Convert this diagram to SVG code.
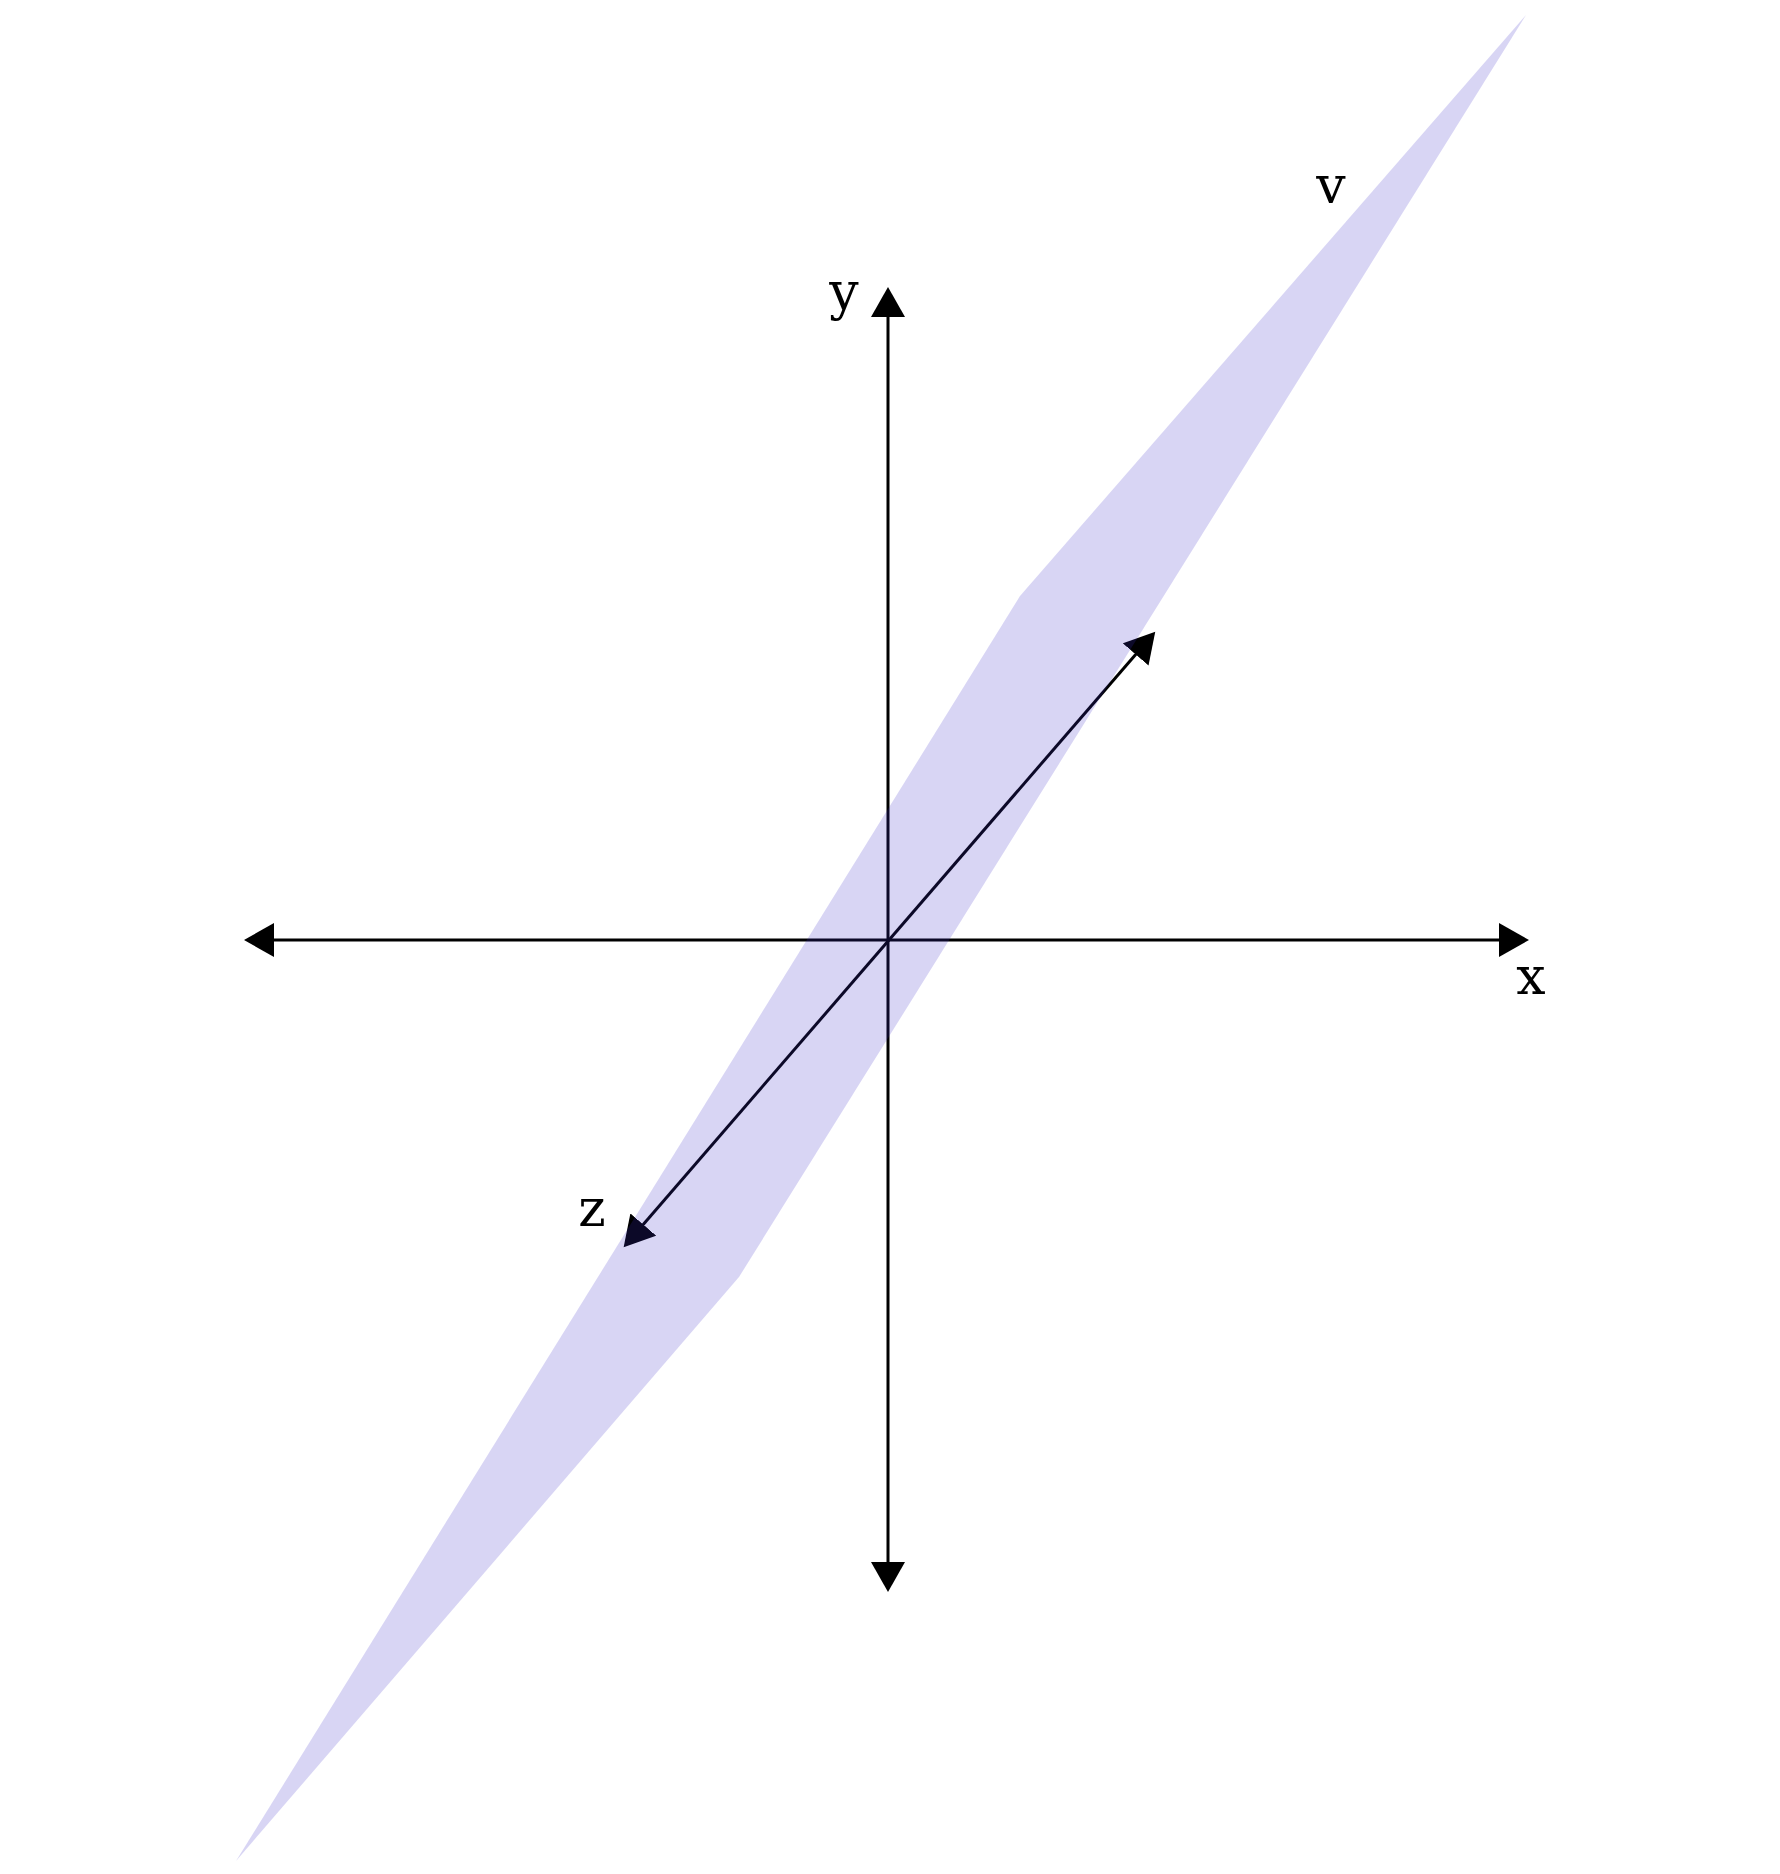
<svg xmlns="http://www.w3.org/2000/svg" width="1780" height="1874" viewBox="0 0 1780 1874">
  <style>
    .axis { stroke: #000; stroke-width: 3; fill: none; marker-start: url(#head); marker-end: url(#head); }
    .lbl { font-family: "DejaVu Serif", "Liberation Serif", serif; font-size: 52px; fill: #000; text-anchor: middle; }
    .plane { fill: rgb(60,45,200); fill-opacity: 0.2; stroke: none; }
  </style>
  <defs>
    <marker id="head" markerUnits="userSpaceOnUse" markerWidth="31" markerHeight="34" refX="1" refY="17" orient="auto-start-reverse" viewBox="0 0 31 34">
      <path d="M0,0 L30,17 L0,34 z" fill="#000"/>
    </marker>
  </defs>
  <rect width="1780" height="1874" fill="#fff"/>
  <g id="connectors">
    <line id="x-axis" class="axis" x1="273" y1="940" x2="1500" y2="940"/>
    <line id="y-axis" class="axis" x1="888" y1="316" x2="888" y2="1563"/>
    <line id="z-axis" class="axis" x1="642.6" y1="1225.3" x2="1136.3" y2="653.7"/>
  </g>
  <g id="plane-v">
    <polygon class="plane" points="1526,15 1020,596 236,1861 739,1277"/>
  </g>
  <g id="label-x"><text class="lbl" x="1531" y="994">x</text></g>
  <g id="label-y"><text class="lbl" x="844" y="309">y</text></g>
  <g id="label-z"><text class="lbl" x="592" y="1226">z</text></g>
  <g id="label-v"><text class="lbl" x="1331" y="203">v</text></g>
</svg>
